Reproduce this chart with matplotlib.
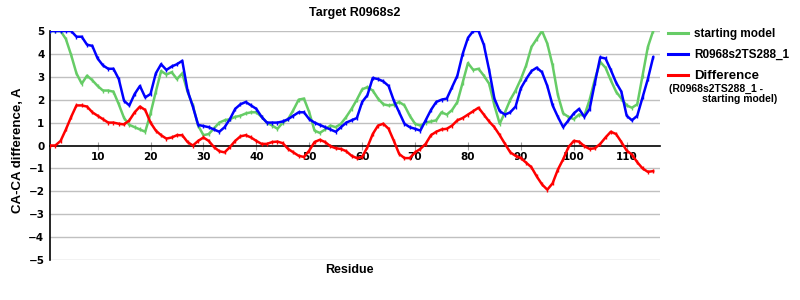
import numpy as np
import matplotlib
matplotlib.use("Agg")
import matplotlib.pyplot as plt

# Residue numbers and per-residue CA-CA differences
residues = np.arange(1, 116)

starting_model = [
    5.0, 5.0, 5.0, 4.65, 3.95, 3.15, 2.7, 3.05, 2.85, 2.6,
    2.4, 2.4, 2.35, 1.8, 1.2, 0.9, 0.8, 0.7, 0.6, 1.4,
    2.35, 3.25, 3.1, 3.2, 2.9, 3.15, 2.35, 1.75, 0.87, 0.45,
    0.5, 0.75, 1.0, 1.1, 1.15, 1.25, 1.3, 1.4, 1.45, 1.45,
    1.25, 1.0, 0.87, 0.73, 1.0, 1.15, 1.55, 2.0, 2.05, 1.45,
    0.65, 0.55, 0.7, 0.87, 0.8, 0.95, 1.25, 1.6, 2.0, 2.45,
    2.55, 2.4, 2.05, 1.8, 1.75, 1.78, 1.9, 1.75, 1.3, 0.95,
    0.87, 1.0, 1.05, 1.1, 1.45, 1.35, 1.55, 1.9, 2.75, 3.6,
    3.3, 3.35, 3.05, 2.7, 1.75, 0.95, 1.45, 2.0, 2.4, 2.9,
    3.5, 4.3, 4.65, 5.0, 4.45, 3.5, 2.2, 1.4, 1.25, 1.15,
    1.35, 1.3, 2.0, 2.9, 3.65, 3.4, 2.85, 2.35, 2.05, 1.75,
    1.65, 1.8, 3.05, 4.3, 5.0,
]

model_ts288 = [
    5.0, 5.0, 5.0, 5.0, 5.0, 4.75, 4.75, 4.4, 4.35, 3.8,
    3.5, 3.35, 3.35, 2.9, 1.95, 1.75, 2.25, 2.6, 2.1, 2.25,
    3.15, 3.55, 3.3, 3.45, 3.55, 3.7, 2.4, 1.7, 0.9, 0.85,
    0.8, 0.7, 0.6, 0.8, 1.15, 1.6, 1.8, 1.9, 1.75, 1.6,
    1.25, 1.0, 1.0, 1.0, 1.05, 1.15, 1.3, 1.45, 1.45, 1.15,
    1.0, 0.9, 0.8, 0.7, 0.6, 0.8, 1.0, 1.1, 1.2, 1.9,
    2.2, 2.95, 2.9, 2.8, 2.6, 1.95, 1.45, 0.95, 0.8, 0.73,
    0.65, 1.1, 1.55, 1.9, 2.0, 2.05, 2.55, 3.05, 4.0, 4.7,
    5.0, 5.0, 4.4, 3.3, 2.05, 1.5, 1.35, 1.45, 1.7, 2.5,
    2.9, 3.25, 3.4, 3.2, 2.6, 1.75, 1.25, 0.8, 1.1, 1.4,
    1.6, 1.25, 1.6, 2.75, 3.85, 3.8, 3.3, 2.75, 2.35, 1.3,
    1.1, 1.3, 2.1, 2.9, 3.85,
]

difference = [
    0.0, 0.0, 0.2, 0.7, 1.25, 1.75, 1.75, 1.7, 1.45, 1.3,
    1.15, 1.0, 1.0, 0.95, 0.92, 1.1, 1.45, 1.7, 1.55, 1.0,
    0.65, 0.45, 0.3, 0.35, 0.45, 0.45, 0.15, 0.0, 0.2, 0.35,
    0.2, -0.07, -0.25, -0.3, -0.07, 0.2, 0.4, 0.45, 0.35, 0.2,
    0.07, 0.07, 0.15, 0.17, 0.1, -0.15, -0.3, -0.45, -0.5, -0.22,
    0.15, 0.25, 0.15, -0.03, -0.12, -0.15, -0.25, -0.45, -0.55, -0.5,
    -0.07, 0.5, 0.87, 0.95, 0.73, 0.2, -0.37, -0.55, -0.55, -0.3,
    -0.15, 0.07, 0.45, 0.6, 0.7, 0.73, 0.87, 1.1, 1.2, 1.35,
    1.5, 1.65, 1.35, 1.05, 0.8, 0.45, 0.07, -0.3, -0.45, -0.55,
    -0.75, -0.95, -1.35, -1.7, -1.93, -1.65, -1.05, -0.6, -0.07, 0.2,
    0.17, -0.03, -0.15, -0.12, 0.07, 0.35, 0.6, 0.5, 0.15, -0.22,
    -0.4, -0.73, -1.0, -1.15, -1.12,
]

x_ticks = [10, 20, 30, 40, 50, 60, 70, 80, 90, 100, 110]
y_ticks = [-5, -4, -3, -2, -1, 0, 1, 2, 3, 4, 5]

fig = plt.figure(figsize=(8, 3), dpi=100)
ax = fig.add_axes([50 / 800, 1 - 260 / 300, 610 / 800, 229 / 300])

ax.plot(residues, starting_model, color="#66cc66", lw=1.8, marker="|", ms=3,
        label="starting model", zorder=3)
ax.plot(residues, model_ts288, color="#0000ff", lw=1.8, marker="|", ms=3,
        label="R0968s2TS288_1", zorder=4)
ax.plot(residues, difference, color="#ff0000", lw=1.8, marker="|", ms=3,
        label="Difference", zorder=5)

ax.set_xlim(1, 116.3)
ax.set_ylim(-5, 5)
ax.set_yticks(y_ticks)
ax.set_yticklabels([str(v).replace("-", "\u2212") for v in y_ticks])
ax.set_xticks(x_ticks)

for v in y_ticks:
    if v != 0:
        ax.axhline(v, color="#c0c0c0", lw=1, zorder=1)

for s in ["top", "right"]:
    ax.spines[s].set_visible(False)
ax.spines["bottom"].set_position(("data", 0))
ax.spines["bottom"].set_color("black")
ax.spines["bottom"].set_linewidth(1.2)
ax.spines["left"].set_color("black")
ax.spines["left"].set_linewidth(1.2)

ax.tick_params(axis="x", direction="inout", length=6, color="#a0a0a0",
               labelsize=7.5, pad=2)
ax.tick_params(axis="y", length=0, labelsize=7.5, pad=4)
for lab in ax.get_xticklabels() + ax.get_yticklabels():
    lab.set_fontweight("bold")
    lab.set_family("DejaVu Sans")

fig.text(355 / 800, 1 - 13 / 300, "Target R0968s2", ha="center", va="center",
         fontsize=9, fontweight="bold", family="Liberation Sans")
fig.text(349 / 800, 1 - 270 / 300, "Residue", ha="center", va="center",
         fontsize=9, fontweight="bold", family="Liberation Sans")
fig.text(18 / 800, 1 - 150 / 300, "CA-CA difference, A", ha="center", va="center",
         rotation=90, fontsize=9.5, fontweight="bold", family="Liberation Sans")

leg = ax.legend(loc="upper left", bbox_to_anchor=(668 / 800, 1 - 28 / 300),
                bbox_transform=fig.transFigure, frameon=False, handlelength=1.7,
                handletextpad=0.5, labelspacing=0.75, borderpad=0, borderaxespad=0,
                prop={"family": "Liberation Sans", "weight": "bold", "size": 8.5})
for line in leg.get_lines():
    line.set_marker("")
    line.set_linewidth(2.2)
leg.get_texts()[2].set_fontsize(9.5)

fig.text(669 / 800, 1 - 89 / 300, "(R0968s2TS288_1 -", ha="left", va="center",
         fontsize=7.5, fontweight="bold", family="Liberation Sans")
fig.text(702 / 800, 1 - 99 / 300, "starting model)", ha="left", va="center",
         fontsize=7.5, fontweight="bold", family="Liberation Sans")

fig.savefig("out.png", dpi=100)
